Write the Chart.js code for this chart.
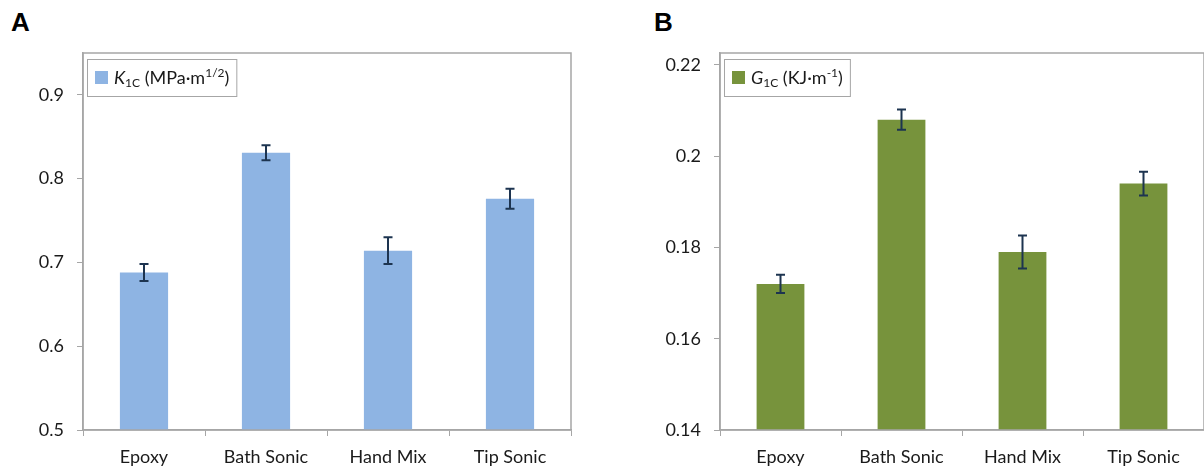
<!DOCTYPE html>
<html>
<head>
<meta charset="utf-8">
<script src="https://cdn.jsdelivr.net/npm/chart.js@4.4.1/dist/chart.umd.min.js"></script>
<style>
  html, body { margin: 0; padding: 0; background: #fff; overflow: hidden; }
  #wrap { position: relative; width: 1204px; height: 471px; }
  canvas { position: absolute; top: 0; }
  .tag { position: absolute; top: 7px; font: bold 26px "Liberation Sans", Arial, sans-serif; color: #000; }
</style>
</head>
<body>
<div id="wrap">
  <div class="tag" style="left:11px">A</div>
  <div class="tag" style="left:654px">B</div>
  <canvas id="chartA" width="600" height="471" style="left:0"></canvas>
  <canvas id="chartB" width="567" height="471" style="left:637px"></canvas>
</div>
<script>
"use strict";
// categories shared by both panels
var categories = ['Epoxy', 'Bath Sonic', 'Hand Mix', 'Tip Sonic'];

// panel A: fracture toughness
var k1cValues = [0.688, 0.831, 0.714, 0.776];
var k1cErrors = [0.010, 0.009, 0.016, 0.012];
var k1cTicks = [0.5, 0.6, 0.7, 0.8, 0.9];

// panel B: fracture energy
var g1cValues = [0.172, 0.208, 0.179, 0.194];
var g1cErrors = [0.002, 0.0022, 0.0036, 0.0026];
var g1cTicks = [0.14, 0.16, 0.18, 0.2, 0.22];

// legend text pieces: [text, style] (style: n normal, i italic, sub, sup)
var k1cLegend = [['K', 'i'], ['1C', 'sub'], [' (MPa\u00b7m', 'n'], ['1/2', 'sup'], [')', 'n']];
var g1cLegend = [['G', 'i'], ['1C', 'sub'], [' (KJ\u00b7m', 'n'], ['-1', 'sup'], [')', 'n']];

var FONT = 'Lato, "Open Sans", sans-serif';
var AXIS_GREY = '#a6a6a6';
var TEXT_COL = '#1a1a1a';
var ERR_COL = '#1d3450';

Chart.defaults.font.family = FONT;
Chart.defaults.font.size = 18;
Chart.defaults.color = TEXT_COL;

function pieceFont(style) {
    if (style === 'i') return 'italic 18px ' + FONT;
    if (style === 'sub' || style === 'sup') return '12px ' + FONT;
    return '18px ' + FONT;
}

var panelExtras = {
    id: 'panelExtras',
    afterDatasetsDraw: function (chart, args, opts) {
        var ctx = chart.ctx;
        var area = chart.chartArea;
        var ys = chart.scales.y;
        var meta = chart.getDatasetMeta(0);
        ctx.save();

        // plot area frame
        ctx.strokeStyle = AXIS_GREY;
        ctx.lineWidth = 1.5;
        ctx.strokeRect(area.left, area.top, area.right - area.left, area.bottom - area.top);

        // error bars
        ctx.strokeStyle = ERR_COL;
        ctx.lineWidth = 2;
        opts.values.forEach(function (v, i) {
            var x = meta.data[i].x;
            var hi = ys.getPixelForValue(v + opts.errors[i]);
            var lo = ys.getPixelForValue(v - opts.errors[i]);
            ctx.beginPath();
            ctx.moveTo(x, hi); ctx.lineTo(x, lo);
            ctx.moveTo(x - 4.5, hi); ctx.lineTo(x + 4.5, hi);
            ctx.moveTo(x - 4.5, lo); ctx.lineTo(x + 4.5, lo);
            ctx.stroke();
        });

        // legend box with rich text
        var textW = 0;
        opts.legend.forEach(function (p) {
            ctx.font = pieceFont(p[1]);
            textW += ctx.measureText(p[0]).width;
        });
        var bx = area.left + 4, by = area.top + 6;
        var bw = 8 + 13 + 6 + textW + 7, bh = 37;
        ctx.fillStyle = '#fff';
        ctx.fillRect(bx, by, bw, bh);
        ctx.strokeStyle = AXIS_GREY;
        ctx.lineWidth = 1;
        ctx.strokeRect(bx + 0.5, by + 0.5, bw, bh);
        ctx.fillStyle = opts.color;
        ctx.fillRect(bx + 8, by + 12, 13, 13);
        var tx = bx + 27, base = by + 25;
        ctx.fillStyle = TEXT_COL;
        ctx.textBaseline = 'alphabetic';
        ctx.textAlign = 'left';
        opts.legend.forEach(function (p) {
            ctx.font = pieceFont(p[1]);
            var dy = p[1] === 'sub' ? 3 : (p[1] === 'sup' ? -7 : 0);
            ctx.fillText(p[0], tx, base + dy);
            tx += ctx.measureText(p[0]).width;
        });
        ctx.restore();
    }
};

function buildChart(id, values, errors, ticks, yMin, yMax, step, color, legend, padRight) {
    var ctx = document.getElementById(id);
    return new Chart(ctx, {
        type: 'bar',
        data: {
            labels: categories,
            datasets: [{
                data: values,
                backgroundColor: color,
                borderWidth: 0,
                categoryPercentage: 1,
                barPercentage: 0.395
            }]
        },
        options: {
            responsive: false,
            animation: false,
            devicePixelRatio: 1,
            layout: { padding: { left: 0, right: padRight, top: 53, bottom: 0 } },
            plugins: {
                legend: { display: false },
                tooltip: { enabled: false },
                panelExtras: { values: values, errors: errors, color: color, legend: legend }
            },
            scales: {
                x: {
                    grid: { display: true, drawOnChartArea: false, color: AXIS_GREY, tickLength: 6, offset: true },
                    border: { color: AXIS_GREY, width: 1.5 },
                    ticks: { padding: 10, color: TEXT_COL, font: { size: 18 } },
                    afterFit: function (s) { s.height = 41; }
                },
                y: {
                    min: yMin,
                    max: yMax,
                    grid: { display: true, drawOnChartArea: false, color: AXIS_GREY, tickLength: 6 },
                    border: { color: AXIS_GREY, width: 1.5 },
                    ticks: {
                        stepSize: step,
                        padding: 13,
                        color: TEXT_COL,
                        font: { size: 18 },
                        callback: function (v) { return String(Number(v.toFixed(3))); }
                    },
                    afterBuildTicks: function (s) {
                        s.ticks = ticks.map(function (t) { return { value: t }; });
                    },
                    afterFit: function (s) { s.width = 83; }
                }
            }
        },
        plugins: [panelExtras]
    });
}

var chartA = buildChart('chartA', k1cValues, k1cErrors, k1cTicks, 0.5, 0.95, 0.1, '#8eb4e3', k1cLegend, 29);
var chartB = buildChart('chartB', g1cValues, g1cErrors, g1cTicks, 0.14, 0.2226, 0.02, '#77933c', g1cLegend, 0);
</script>
</body>
</html>
